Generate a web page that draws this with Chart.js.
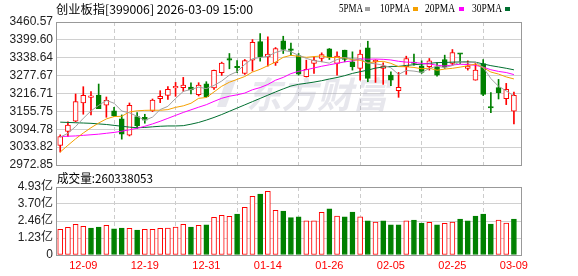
<!DOCTYPE html>
<html><head><meta charset="utf-8">
<script src="https://cdn.jsdelivr.net/npm/chart.js@4"></script>
<style>
html,body{margin:0;padding:0;background:#fff;}
#wrap{position:relative;width:578px;height:276px;overflow:hidden;}
canvas{position:absolute;left:0;top:0;}
</style></head><body>
<div id="wrap"><canvas id="price" width="578" height="276"></canvas><canvas id="vol" width="578" height="276"></canvas></div>
<script>
// ---------------- data ----------------
const dates = ['12-04','12-05','12-08','12-09','12-10','12-11','12-12','12-15','12-16','12-17',
'12-18','12-19','12-22','12-23','12-24','12-25','12-26','12-29','12-30','12-31',
'01-05','01-06','01-07','01-08','01-09','01-12','01-13','01-14','01-15','01-16',
'01-19','01-20','01-21','01-22','01-23','01-26','01-27','01-28','01-29','01-30',
'02-02','02-03','02-04','02-05','02-06','02-09','02-10','02-11','02-12','02-13',
'02-24','02-25','02-26','02-27','03-02','03-03','03-04','03-05','03-06','03-09'];
const axisDates = ['12-09','12-19','12-31','01-14','01-26','02-05','02-25','03-09'];

const open = [3039.5,3087.0,3122.2,3184.4,3203.6,3211.6,3176.5,3157.2,3130.1,3074.6,
3138.0,3135.7,3157.2,3199.1,3210.5,3235.4,3236.5,3238.8,3212.7,3250.1,
3235.4,3287.5,3333.9,3309.0,3285.2,3330.5,3393.9,3341.8,3321.4,3396.1,
3367.0,3346.3,3273.9,3319.1,3336.1,3369.0,3319.1,3364.4,3324.8,3302.2,
3372.4,3324.8,3302.2,3279.5,3226.3,3307.8,3322.6,3311.2,3307.8,3307.8,
3332.7,3319.1,3352.0,3302.2,3262.5,3319.1,3168.0,3236.5,3199.1,3156.1];
const high = [3075.7,3119.9,3215.0,3239.9,3222.9,3249.0,3204.8,3169.7,3143.6,3184.4,
3151.6,3145.9,3198.0,3226.3,3239.9,3254.6,3271.6,3253.5,3253.5,3256.9,
3296.5,3323.7,3353.1,3329.3,3332.7,3400.7,3421.1,3409.7,3373.5,3412.0,
3389.0,3353.1,3330.5,3341.8,3355.4,3370.1,3358.8,3364.6,3358.8,3364.4,
3395.0,3332.0,3321.4,3290.8,3288.6,3344.0,3350.8,3328.2,3336.1,3321.4,
3347.5,3366.7,3353.0,3328.2,3319.1,3332.7,3219.5,3264.8,3251.2,3221.8];
const low = [3017.0,3070.0,3120.0,3146.0,3144.0,3165.0,3135.7,3138.0,3061.0,3072.0,
3097.3,3115.3,3155.0,3185.5,3196.9,3207.0,3224.1,3215.0,3208.2,3203.7,
3230.8,3278.4,3301.0,3287.5,3281.8,3293.1,3327.1,3310.1,3312.4,3353.1,
3347.0,3279.5,3273.0,3285.2,3324.8,3332.7,3279.5,3324.8,3296.5,3262.5,
3256.9,3254.6,3247.8,3243.3,3203.7,3281.8,3313.5,3285.2,3296.5,3276.1,
3302.2,3313.5,3319.0,3296.5,3262.0,3209.3,3151.6,3198.0,3178.8,3113.1];
const close = [3070.0,3108.6,3189.0,3210.5,3208.0,3165.2,3193.5,3140.3,3078.0,3176.5,
3106.3,3125.5,3194.6,3207.1,3230.8,3241.0,3245.6,3228.6,3245.6,3205.9,
3295.4,3320.3,3330.5,3304.4,3329.3,3391.6,3341.8,3350.9,3370.1,3366.7,
3364.0,3282.9,3298.8,3330.5,3349.7,3339.5,3344.0,3332.7,3307.8,3350.8,
3268.2,3330.5,3310.1,3262.5,3237.6,3336.1,3319.1,3288.6,3328.2,3279.5,
3307.8,3356.5,3350.5,3310.1,3296.5,3213.9,3167.4,3219.5,3230.8,3210.5];
// volume in 亿
const volume = [1.86,2.01,2.22,2.08,1.96,2.03,2.15,1.89,1.96,1.93,
1.81,1.86,1.86,1.93,1.96,2.03,2.22,2.03,2.15,2.18,
2.73,2.88,2.80,2.97,3.46,4.25,4.42,4.62,3.24,3.19,
2.71,2.76,2.47,2.47,3.09,3.34,2.83,2.76,3.12,2.76,
2.47,2.39,2.47,2.18,2.18,2.47,2.54,2.32,2.37,2.18,
2.30,2.39,2.61,2.47,2.83,2.97,2.25,2.54,2.32,2.6034];
const lastVolume = 260338053;

// moving-average values before enough history is visible
const ma5Lead = [3068,3081,3104,3132];
const ma10Lead = [3017,3040,3062,3082,3100,3116,3130,3138,3139];
const ma20Lead = [3070,3071,3072,3074,3076,3078,3081,3084,3088,3093,3098,3105,3113,3122,3132,3142,3152,3161,3170];
const ma30Lead = [3119,3118,3117,3116,3115,3113,3111,3108,3105,3102,3100,3101,3103,3105,3106,3106,3107,3112,3118,3126,3135,3145,3156,3167,3178,3189,3200,3211,3222];

const priceTicks = [3460.57,3399.60,3338.64,3277.67,3216.71,3155.75,3094.78,3033.82,2972.85];
const volTicks = [0,1.23,2.46,3.70,4.93];
const maPeriods = [5,10,20,30];
const maLabels = ['5PMA','10PMA','20PMA','30PMA'];

// ---------------- styling ----------------
const RED = '#ff0000', GREEN = '#008000';
const maColors = ['#a0a0a0','#f5a000','#ff00ff','#006f30'];
const idx = dates.map((_, i) => i);
const up = close.map((c, i) => c >= open[i]);
const volUp = close.map((c, i) => i === 0 ? true : c >= close[i - 1]);
const leads = {5: ma5Lead, 10: ma10Lead, 20: ma20Lead, 30: ma30Lead};
function movingAvg(n) {
  const lead = leads[n];
  return close.map((_, i) => i < n - 1 ? lead[i] :
    close.slice(i - n + 1, i + 1).reduce((a, b) => a + b, 0) / n);
}
const tickIdx = axisDates.map(d => dates.indexOf(d));

function xScale(showLabels) {
  return {
    type: 'linear', min: -0.55, max: 60.05, offset: false,
    afterBuildTicks: s => { s.ticks = tickIdx.map(v => ({value: v})); },
    afterFit: s => { s.height = showLabels ? 21 : 0; },
    grid: {color: '#cccccc', drawTicks: false},
    border: {display: false, dash: [4, 3]},
    ticks: {display: showLabels, color: RED, font: {family: 'Arial', size: 11},
      padding: 4, maxRotation: 0, autoSkip: false, callback: v => dates[v]}
  };
}

function fitText(ctx, text, x, y, font, color, w) {
  ctx.save();
  ctx.font = font; ctx.fillStyle = color;
  ctx.textBaseline = 'middle'; ctx.textAlign = 'left';
  const m = ctx.measureText(text).width;
  ctx.translate(x, y);
  if (w) ctx.scale(w / m, 1);
  ctx.fillText(text, 0, 0);
  ctx.restore();
}

const framePlugin = {
  id: 'frame',
  beforeDatasetsDraw(chart, args, opts) {
    const ctx = chart.ctx, a = chart.chartArea;
    if (opts.watermark) {
      fitText(ctx, '东方财富', 246, 94, 'italic bold 36px "Noto Sans CJK SC"', 'rgba(170,170,190,0.28)', 142);
      ctx.save();
      ctx.fillStyle = 'rgba(170,170,190,0.28)';
      ctx.beginPath();
      ctx.moveTo(226, 80); ctx.lineTo(236, 80); ctx.lineTo(226, 107); ctx.lineTo(217, 107);
      ctx.closePath(); ctx.fill();
      ctx.restore();
    }
    ctx.save();
    ctx.strokeStyle = '#999999'; ctx.lineWidth = 1;
    ctx.strokeRect(Math.round(a.left) + 0.5, Math.round(a.top) + 0.5,
      Math.round(a.right - a.left) - 1, Math.round(a.bottom - a.top));
    ctx.restore();
  }
};

const textPlugin = {
  id: 'texts',
  afterDraw(chart) {
    const ctx = chart.ctx;
    fitText(ctx, '创业板指[399006] 2026-03-09 15:00', 56, 9, '12px "Noto Sans CJK SC"', '#000', 197);
    const lx = [339, 380, 425, 472];
    const sx = [365, 413, 459, 505];
    maLabels.forEach((t, k) => {
      fitText(ctx, t, lx[k], 9, '12px "Liberation Serif"', '#000', t.length * 6);
      ctx.fillStyle = maColors[k];
      ctx.fillRect(sx[k], 7, 5, 4);
    });
    fitText(ctx, '成交量:' + lastVolume, 57, 178, '12px "Noto Sans CJK SC"', '#000', 96);
  }
};

// ---------------- price chart ----------------
new Chart(document.getElementById('price'), {
  type: 'bar',
  data: {
    datasets: [
      ...maPeriods.map((n, k) => ({
        type: 'line', label: maLabels[k],
        data: movingAvg(n).map((v, i) => ({x: i, y: v})),
        borderColor: maColors[k], borderWidth: 1, pointRadius: 0, tension: 0
      })),
      {
        type: 'bar', label: 'body',
        data: idx.map(i => ({x: i, y: [open[i], close[i]]})),
        backgroundColor: up.map(u => u ? '#ffffff' : GREEN),
        borderColor: up.map(u => u ? RED : GREEN),
        borderWidth: 1, borderSkipped: false, barThickness: 5, grouped: false, minBarLength: 1.5
      },
      {
        type: 'bar', label: 'wick',
        data: idx.map(i => ({x: i, y: [low[i], high[i]]})),
        backgroundColor: up.map(u => u ? RED : GREEN),
        borderWidth: 0, barThickness: 1, grouped: false
      }
    ]
  },
  options: {
    responsive: false, animation: false, events: [],
    layout: {padding: {top: 22, bottom: 111, left: 0, right: 56}},
    plugins: {legend: {display: false}, tooltip: {enabled: false}, frame: {watermark: true}},
    scales: {
      x: xScale(false),
      y: {
        min: 2972.85, max: 3460.57,
        afterBuildTicks: s => { s.ticks = priceTicks.map(v => ({value: v})); },
        afterFit: s => { s.width = 56; },
        grid: {color: '#d0d0d0', drawTicks: false},
        border: {display: false},
        ticks: {color: '#222', font: {family: 'Arial', size: 12}, padding: 3, autoSkip: false,
          callback: v => v.toFixed(2)}
      }
    }
  },
  plugins: [framePlugin]
});

// ---------------- volume chart ----------------
new Chart(document.getElementById('vol'), {
  type: 'bar',
  data: {
    datasets: [{
      label: '成交量',
      data: idx.map(i => ({x: i, y: volume[i]})),
      backgroundColor: volUp.map(u => u ? '#ffffff' : GREEN),
      borderColor: volUp.map(u => u ? RED : GREEN),
      borderWidth: 1, borderSkipped: false, barThickness: 5, grouped: false
    }]
  },
  options: {
    responsive: false, animation: false, events: [],
    layout: {padding: {top: 187, bottom: 0, left: 0, right: 56}},
    plugins: {legend: {display: false}, tooltip: {enabled: false}, frame: {watermark: false}},
    scales: {
      x: xScale(true),
      y: {
        min: 0, max: 4.93,
        afterBuildTicks: s => { s.ticks = volTicks.map(v => ({value: v})); },
        afterFit: s => { s.width = 56; },
        grid: {color: '#d0d0d0', drawTicks: false},
        border: {display: false},
        ticks: {color: '#222', font: {family: 'Arial, "Noto Sans CJK SC"', size: 12}, padding: 3,
          autoSkip: false, callback: v => v === 0 ? '0' : v.toFixed(2) + '亿'}
      }
    }
  },
  plugins: [framePlugin, textPlugin]
});
</script>
</body></html>
